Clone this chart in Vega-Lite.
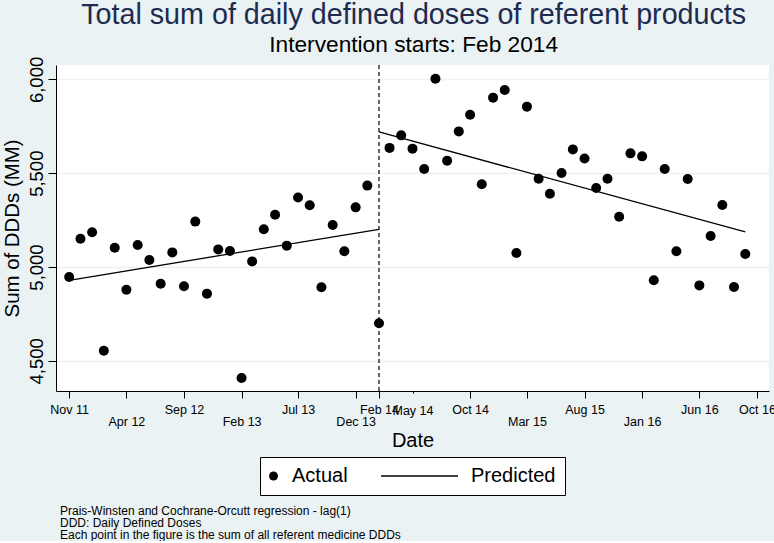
{
  "$schema": "https://vega.github.io/schema/vega-lite/v6.json",
  "background": "#EAF2F3",
  "padding": {"top": 0, "left": 2, "right": 0, "bottom": 0},
  "title": {
    "text": "Total sum of daily defined doses of referent products",
    "subtitle": "Intervention starts: Feb 2014",
    "anchor": "middle",
    "fontSize": 28.7,
    "fontWeight": "normal",
    "color": "#1E2B50",
    "subtitleFontSize": 22.7,
    "subtitleColor": "black",
    "subtitlePadding": 4,
    "offset": 0,
    "dx": 25
  },
  "datasets": {
    "actual": [
      {"date": "2011-11-01", "value": 4947, "series": "Actual"},
      {"date": "2011-12-01", "value": 5151, "series": "Actual"},
      {"date": "2012-01-01", "value": 5185, "series": "Actual"},
      {"date": "2012-02-01", "value": 4554, "series": "Actual"},
      {"date": "2012-03-01", "value": 5103, "series": "Actual"},
      {"date": "2012-04-01", "value": 4879, "series": "Actual"},
      {"date": "2012-05-01", "value": 5117, "series": "Actual"},
      {"date": "2012-06-01", "value": 5037, "series": "Actual"},
      {"date": "2012-07-01", "value": 4911, "series": "Actual"},
      {"date": "2012-08-01", "value": 5078, "series": "Actual"},
      {"date": "2012-09-01", "value": 4897, "series": "Actual"},
      {"date": "2012-10-01", "value": 5242, "series": "Actual"},
      {"date": "2012-11-01", "value": 4858, "series": "Actual"},
      {"date": "2012-12-01", "value": 5094, "series": "Actual"},
      {"date": "2013-01-01", "value": 5085, "series": "Actual"},
      {"date": "2013-02-01", "value": 4408, "series": "Actual"},
      {"date": "2013-03-01", "value": 5030, "series": "Actual"},
      {"date": "2013-04-01", "value": 5201, "series": "Actual"},
      {"date": "2013-05-01", "value": 5279, "series": "Actual"},
      {"date": "2013-06-01", "value": 5114, "series": "Actual"},
      {"date": "2013-07-01", "value": 5371, "series": "Actual"},
      {"date": "2013-08-01", "value": 5329, "series": "Actual"},
      {"date": "2013-09-01", "value": 4892, "series": "Actual"},
      {"date": "2013-10-01", "value": 5224, "series": "Actual"},
      {"date": "2013-11-01", "value": 5084, "series": "Actual"},
      {"date": "2013-12-01", "value": 5318, "series": "Actual"},
      {"date": "2014-01-01", "value": 5434, "series": "Actual"},
      {"date": "2014-02-01", "value": 4700, "series": "Actual"},
      {"date": "2014-03-01", "value": 5635, "series": "Actual"},
      {"date": "2014-04-01", "value": 5702, "series": "Actual"},
      {"date": "2014-05-01", "value": 5631, "series": "Actual"},
      {"date": "2014-06-01", "value": 5523, "series": "Actual"},
      {"date": "2014-07-01", "value": 6004, "series": "Actual"},
      {"date": "2014-08-01", "value": 5567, "series": "Actual"},
      {"date": "2014-09-01", "value": 5723, "series": "Actual"},
      {"date": "2014-10-01", "value": 5812, "series": "Actual"},
      {"date": "2014-11-01", "value": 5441, "series": "Actual"},
      {"date": "2014-12-01", "value": 5903, "series": "Actual"},
      {"date": "2015-01-01", "value": 5944, "series": "Actual"},
      {"date": "2015-02-01", "value": 5075, "series": "Actual"},
      {"date": "2015-03-01", "value": 5855, "series": "Actual"},
      {"date": "2015-04-01", "value": 5471, "series": "Actual"},
      {"date": "2015-05-01", "value": 5391, "series": "Actual"},
      {"date": "2015-06-01", "value": 5501, "series": "Actual"},
      {"date": "2015-07-01", "value": 5627, "series": "Actual"},
      {"date": "2015-08-01", "value": 5579, "series": "Actual"},
      {"date": "2015-09-01", "value": 5421, "series": "Actual"},
      {"date": "2015-10-01", "value": 5471, "series": "Actual"},
      {"date": "2015-11-01", "value": 5268, "series": "Actual"},
      {"date": "2015-12-01", "value": 5606, "series": "Actual"},
      {"date": "2016-01-01", "value": 5590, "series": "Actual"},
      {"date": "2016-02-01", "value": 4929, "series": "Actual"},
      {"date": "2016-03-01", "value": 5523, "series": "Actual"},
      {"date": "2016-04-01", "value": 5084, "series": "Actual"},
      {"date": "2016-05-01", "value": 5469, "series": "Actual"},
      {"date": "2016-06-01", "value": 4902, "series": "Actual"},
      {"date": "2016-07-01", "value": 5165, "series": "Actual"},
      {"date": "2016-08-01", "value": 5331, "series": "Actual"},
      {"date": "2016-09-01", "value": 4893, "series": "Actual"},
      {"date": "2016-10-01", "value": 5069, "series": "Actual"}
    ],
    "predicted": [
      {"date": "2011-11-01", "value": 4929, "series": "Predicted", "segment": "pre"},
      {"date": "2014-02-01", "value": 5201, "series": "Predicted", "segment": "pre"},
      {"date": "2014-02-01", "value": 5720, "series": "Predicted", "segment": "post"},
      {"date": "2016-10-01", "value": 5187, "series": "Predicted", "segment": "post"}
    ],
    "intervention": [
      {"date": "2014-02-01"}
    ]
  },
  "vconcat": [
    {
      "width": 713,
      "height": 326,
      "title": {
        "text": [
          "Prais-Winsten and Cochrane-Orcutt regression - lag(1)",
          "DDD: Daily Defined Doses",
          "Each point in the figure is the sum of all referent medicine DDDs"
        ],
        "orient": "bottom",
        "anchor": "start",
        "frame": "group",
        "fontSize": 12,
        "fontWeight": "normal",
        "color": "black",
        "lineHeight": 12.2,
        "offset": 10,
        "dx": 4
      },
      "layer": [
        {
          "data": {"name": "actual"},
          "mark": {"type": "point", "filled": true, "size": 100, "opacity": 1},
          "encoding": {
            "x": {
              "field": "date",
              "type": "temporal",
              "scale": {
                "type": "utc",
                "domain": [
                  {"year": 2011, "month": 9, "date": 27, "utc": true},
                  {"year": 2016, "month": 12, "date": 3, "utc": true}
                ]
              },
              "axis": {
                "title": "Date",
                "titleFontSize": 20,
                "titleFontWeight": "normal",
                "titleColor": "black",
                "titlePadding": 3,
                "values": [
                  {"year": 2011, "month": 11, "date": 1, "utc": true},
                  {"year": 2012, "month": 4, "date": 1, "utc": true},
                  {"year": 2012, "month": 9, "date": 1, "utc": true},
                  {"year": 2013, "month": 2, "date": 1, "utc": true},
                  {"year": 2013, "month": 7, "date": 1, "utc": true},
                  {"year": 2013, "month": 12, "date": 1, "utc": true},
                  {"year": 2014, "month": 2, "date": 1, "utc": true},
                  {"year": 2014, "month": 5, "date": 1, "utc": true},
                  {"year": 2014, "month": 10, "date": 1, "utc": true},
                  {"year": 2015, "month": 3, "date": 1, "utc": true},
                  {"year": 2015, "month": 8, "date": 1, "utc": true},
                  {"year": 2016, "month": 1, "date": 1, "utc": true},
                  {"year": 2016, "month": 6, "date": 1, "utc": true},
                  {"year": 2016, "month": 11, "date": 1, "utc": true}
                ],
                "labelExpr": "utcFormat(datum.value, '%b %y') == 'Nov 16' ? 'Oct 16' : utcFormat(datum.value, '%b %y')",
                "labelFontSize": 12.5,
                "labelColor": "black",
                "labelAngle": 0,
                "labelAlign": "center",
                "labelOverlap": false,
                "labelFlush": false,
                "labelBound": false,
                "labelPadding": {
                  "condition": [
                    {"test": "indexof(['Apr 12','Feb 13','Dec 13','Mar 15','Jan 16'], utcFormat(datum.value, '%b %y')) >= 0", "value": 17},
                    {"test": "utcFormat(datum.value, '%b %y') == 'May 14'", "value": 11}
                  ],
                  "value": 5
                },
                "tickSize": {
                  "condition": {"test": "utcFormat(datum.value, '%b %y') == 'May 14'", "value": 2},
                  "value": 7
                },
                "grid": false
              }
            },
            "y": {
              "field": "value",
              "type": "quantitative",
              "scale": {"domain": [4339, 6077], "nice": false, "zero": false},
              "axis": {
                "title": "Sum of DDDs (MM)",
                "titleFontSize": 20.4,
                "titleFontWeight": "normal",
                "titleColor": "black",
                "titlePadding": 5,
                "values": [4500, 5000, 5500, 6000],
                "format": ",.0f",
                "labelAngle": -90,
                "labelAlign": "center",
                "labelBaseline": "alphabetic",
                "labelFontSize": 18.5,
                "labelColor": "black",
                "labelPadding": 6,
                "tickSize": 8,
                "grid": true,
                "gridColor": "#EAF2F3",
                "gridWidth": 1.5
              }
            },
            "color": {
              "field": "series",
              "type": "nominal",
              "scale": {"domain": ["Actual", "Predicted"], "range": ["black", "black"]},
              "legend": {
                "title": null,
                "orient": "bottom",
                "direction": "horizontal",
                "strokeColor": "black",
                "fillColor": "white",
                "padding": 9,
                "offset": 6,
                "labelFontSize": 20,
                "labelColor": "black",
                "columnPadding": 30,
                "symbolSize": 81,
                "encode": {
                  "symbols": {
                    "update": {
                      "shape": {"signal": "datum.value === 'Actual' ? 'circle' : 'stroke'"},
                      "size": {"signal": "datum.value === 'Actual' ? 81 : 5929"},
                      "fill": {"signal": "datum.value === 'Actual' ? 'black' : 'transparent'"},
                      "stroke": {"value": "black"},
                      "strokeWidth": {"signal": "datum.value === 'Actual' ? 0 : 1.3"},
                      "x": {"signal": "datum.value === 'Actual' ? 4.5 : 38.5"},
                      "opacity": {"value": 1}
                    }
                  },
                  "labels": {
                    "update": {
                      "x": {"signal": "datum.value === 'Actual' ? 23 : 90"}
                    }
                  }
                }
              }
            }
          }
        },
        {
          "data": {"name": "predicted"},
          "mark": {"type": "line", "strokeWidth": 1.3},
          "encoding": {
            "x": {"field": "date", "type": "temporal"},
            "y": {"field": "value", "type": "quantitative"},
            "color": {
              "field": "series",
              "type": "nominal",
              "legend": {
                "title": null,
                "orient": "bottom",
                "direction": "horizontal",
                "strokeColor": "black",
                "fillColor": "white",
                "padding": 9,
                "offset": 6,
                "labelFontSize": 20,
                "labelColor": "black",
                "columnPadding": 30,
                "symbolSize": 81,
                "encode": {
                  "symbols": {
                    "update": {
                      "shape": {"signal": "datum.value === 'Actual' ? 'circle' : 'stroke'"},
                      "size": {"signal": "datum.value === 'Actual' ? 81 : 5929"},
                      "fill": {"signal": "datum.value === 'Actual' ? 'black' : 'transparent'"},
                      "stroke": {"value": "black"},
                      "strokeWidth": {"signal": "datum.value === 'Actual' ? 0 : 1.3"},
                      "x": {"signal": "datum.value === 'Actual' ? 4.5 : 38.5"},
                      "opacity": {"value": 1}
                    }
                  },
                  "labels": {
                    "update": {
                      "x": {"signal": "datum.value === 'Actual' ? 23 : 90"}
                    }
                  }
                }
              }
            },
            "detail": {"field": "segment", "type": "nominal"}
          }
        },
        {
          "data": {"name": "intervention"},
          "mark": {"type": "rule", "strokeDash": [4, 3], "strokeWidth": 1.2, "color": "black"},
          "encoding": {
            "x": {"field": "date", "type": "temporal"}
          }
        }
      ]
    }
  ],
  "resolve": {"legend": {"color": "independent"}},
  "config": {
    "font": "Liberation Sans",
    "view": {"stroke": null, "fill": "white"},
    "axis": {"domainColor": "black", "tickColor": "black", "domainWidth": 1, "tickWidth": 1},
    "legend": {"layout": {"bottom": {"anchor": "middle"}}}
  }
}
